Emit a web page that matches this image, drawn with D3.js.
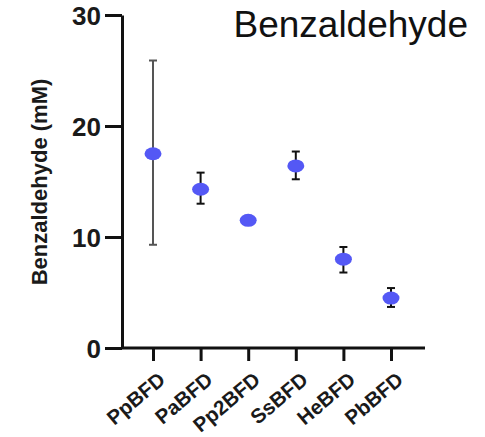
<!doctype html>
<html lang="en">
	<head>
		<meta charset="UTF-8" />
		<script src="https://d3js.org/d3.v7.min.js"></script>
		<style>
			body { margin: 0; background: #fff; }
		</style>
	</head>
	<body>
		<svg width="485" height="437"></svg>
		<script>
			const enzymes = ['PpBFD', 'PaBFD', 'Pp2BFD', 'SsBFD', 'HeBFD', 'PbBFD']
			const means = [17.5, 14.3, 11.5, 16.4, 8.0, 4.5]
			const lows = [9.3, 13.0, 11.1, 15.2, 6.8, 3.7]
			const highs = [25.9, 15.8, 11.9, 17.7, 9.1, 5.4]
			const barColors = ['#555', '#111', '#111', '#111', '#111', '#111']
			const yTicks = [0, 10, 20, 30]

			const font = "'Liberation Sans', Arial, sans-serif"
			const svg = d3.select('svg').attr('font-family', font)
			const mLeft = 122, mRight = 425, mTop = 15, mBottom = 348

			const y = d3.scaleLinear().domain([0, 30]).range([mBottom, mTop])
			const x = d3.scalePoint().domain(enzymes).range([153, 391])

			const data = enzymes.map((e, i) => ({ e, m: means[i], lo: lows[i], hi: highs[i], c: barColors[i] }))

			// y axis
			const yAxis = svg.append('g')
				.attr('transform', `translate(${mLeft},0)`)
				.call(d3.axisLeft(y).tickValues(yTicks).tickSize(17).tickSizeOuter(0).tickPadding(4))
			yAxis.attr('font-family', font)
			yAxis.select('.domain').attr('stroke', '#111').attr('stroke-width', 3)
			yAxis.selectAll('.tick line').attr('stroke', '#111').attr('stroke-width', 3)
			yAxis.selectAll('.tick text').attr('font-size', 26).attr('font-weight', 'bold').attr('fill', '#1a1a1a')
				.attr('dy', '0.36em')

			// x axis
			const xAxis = svg.append('g')
				.attr('transform', `translate(0,${mBottom})`)
				.call(d3.axisBottom(x).tickSize(13).tickSizeOuter(0))
			xAxis.attr('font-family', font)
			xAxis.select('.domain').attr('d', `M${mLeft - 1},0H${mRight}`).attr('stroke', '#111').attr('stroke-width', 3)
			xAxis.selectAll('.tick line').attr('stroke', '#111').attr('stroke-width', 3)
			xAxis.selectAll('.tick text')
				.attr('font-size', 20.5).attr('font-weight', 'bold').attr('fill', '#1a1a1a')
				.attr('text-anchor', 'end')
				.attr('x', 0).attr('y', 0).attr('dy', 0)
				.attr('transform', 'translate(13,34) rotate(-40)')

			// error bars
			const eb = svg.append('g').selectAll('g').data(data).join('g')
			eb.append('line')
				.attr('x1', d => x(d.e)).attr('x2', d => x(d.e))
				.attr('y1', d => y(d.lo)).attr('y2', d => y(d.hi))
				.attr('stroke', d => d.c).attr('stroke-width', 2)
			eb.selectAll('line.cap').data(d => [[d, d.lo], [d, d.hi]]).join('line')
				.attr('class', 'cap')
				.attr('x1', d => x(d[0].e) - 4).attr('x2', d => x(d[0].e) + 4)
				.attr('y1', d => y(d[1])).attr('y2', d => y(d[1]))
				.attr('stroke', d => d[0].c).attr('stroke-width', 2)

			// points
			svg.append('g').selectAll('ellipse').data(data).join('ellipse')
				.attr('cx', d => x(d.e)).attr('cy', d => y(d.m))
				.attr('rx', 8.5).attr('ry', 6.5)
				.attr('fill', '#5458f5')

			// labels
			svg.append('text')
				.attr('x', 468).attr('y', 37)
				.attr('text-anchor', 'end')
				.attr('font-size', 37)
				.attr('fill', '#111')
				.text('Benzaldehyde')

			svg.append('text')
				.attr('transform', 'translate(47,182) rotate(-90)')
				.attr('text-anchor', 'middle')
				.attr('font-size', 22)
				.attr('font-weight', 'bold')
				.attr('fill', '#1a1a1a')
				.text('Benzaldehyde (mM)')
		</script>
	</body>
</html>
